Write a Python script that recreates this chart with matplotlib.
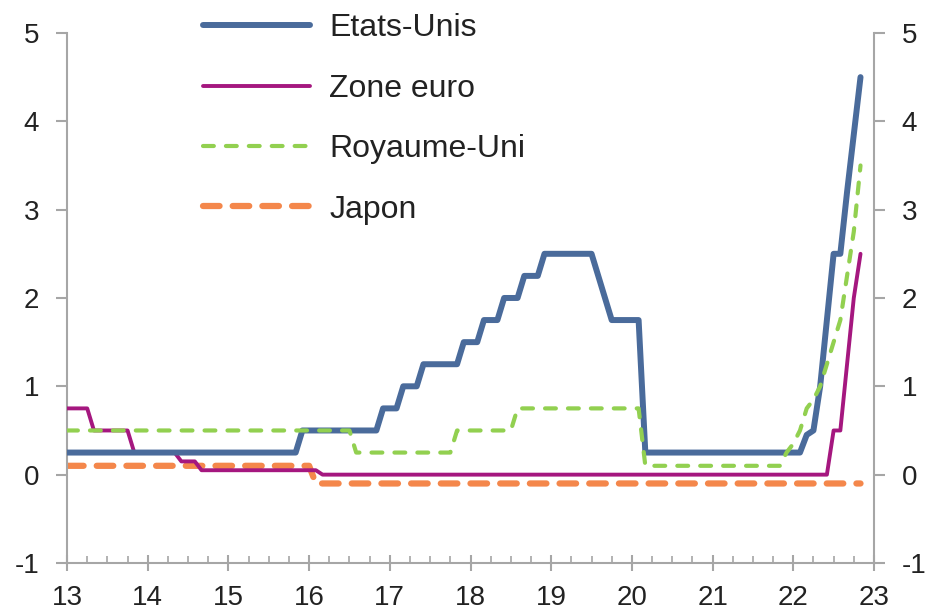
import matplotlib
matplotlib.use("Agg")
import matplotlib.pyplot as plt
from matplotlib.ticker import MultipleLocator
import numpy as np

plt.rcParams['font.family'] = ['Liberation Sans', 'DejaVu Sans']

# Month index counted from January 2013 (0 = Jan 2013), and policy rate (%)
us_month = [0, 34, 35, 46, 47, 49, 50, 52, 53, 58, 59, 61, 62, 64, 65, 67, 68, 70, 71,
            78, 79, 80, 81, 85, 86, 109, 110, 111, 112, 113, 114, 115, 116, 117, 118]
us_rate = [0.25, 0.25, 0.5, 0.5, 0.75, 0.75, 1.0, 1.0, 1.25, 1.25, 1.5, 1.5, 1.75, 1.75, 2.0, 2.0,
           2.25, 2.25, 2.5, 2.5, 2.25, 2.0, 1.75, 1.75, 0.25, 0.25, 0.45, 0.5, 1.0, 1.75, 2.5, 2.5,
           3.2, 3.85, 4.5]

ez_month = [0, 3, 4, 9, 10, 16, 17, 19, 20, 37, 38, 113, 114, 115, 116, 117, 118]
ez_rate = [0.75, 0.75, 0.5, 0.5, 0.25, 0.25, 0.15, 0.15, 0.05, 0.05, 0.0, 0.0, 0.5, 0.5, 1.25, 2.0, 2.5]

uk_month = [0, 42, 43, 57, 58, 66, 67, 85, 86, 106, 107, 108, 109, 110, 111, 112, 113, 114,
            115, 116, 117, 118]
uk_rate = [0.5, 0.5, 0.25, 0.25, 0.5, 0.5, 0.75, 0.75, 0.1, 0.1, 0.25, 0.35, 0.5, 0.75, 0.85,
           1.0, 1.25, 1.5, 1.75, 2.25, 2.75, 3.5]

jp_month = [0, 36, 37, 118]
jp_rate = [0.1, 0.1, -0.1, -0.1]

labels = ["Etats-Unis", "Zone euro", "Royaume-Uni", "Japon"]
x_ticks = [13, 14, 15, 16, 17, 18, 19, 20, 21, 22, 23]
y_ticks = [-1, 0, 1, 2, 3, 4, 5]


def to_year(months):
    return 13 + np.array(months) / 12.0


fig = plt.figure(figsize=(9.26, 6.14), dpi=100)
ax = fig.add_axes([0.0724, 0.0831, 0.9438 - 0.0724, 0.9463 - 0.0831])

grey = '#a6a6a6'
ax.plot(to_year(us_month), us_rate, color='#4a6b9b', lw=4.3, solid_joinstyle='round',
        solid_capstyle='round', label=labels[0], zorder=4)
ax.plot(to_year(ez_month), ez_rate, color='#a5177f', lw=2.8, solid_joinstyle='round',
        solid_capstyle='round', label=labels[1], zorder=3)
ax.plot(to_year(uk_month), uk_rate, color='#92d050', lw=3.0, dashes=(2.6, 2.9),
        dash_capstyle='round', label=labels[2], zorder=5)
ax.plot(to_year(jp_month), jp_rate, color='#f4874b', lw=4.5, dashes=(2.65, 2.1),
        dash_capstyle='round', label=labels[3], zorder=2)

ax.set_xlim(13, 23)
ax.set_ylim(-1, 5)
ax.set_xticks(x_ticks)
ax.set_xticklabels([str(t) for t in x_ticks])
ax.set_yticks(y_ticks)
ax.set_yticklabels([str(t) for t in y_ticks])
ax.xaxis.set_minor_locator(MultipleLocator(0.25))

for s in ['top']:
    ax.spines[s].set_visible(False)
for s in ['left', 'right', 'bottom']:
    ax.spines[s].set_color(grey)
    ax.spines[s].set_linewidth(1.5)

ax.tick_params(axis='y', which='major', left=True, right=True, labelleft=True, labelright=True,
               direction='out', length=8, width=1.5, color=grey, labelsize=20,
               labelcolor='#222222', pad=12)
ax.tick_params(axis='x', which='major', direction='inout', length=12, width=1.5, color=grey,
               labelsize=20, labelcolor='#222222', pad=10)
ax.tick_params(axis='x', which='minor', direction='in', length=5, width=1.2, color=grey)

leg = ax.legend(loc='upper left', bbox_to_anchor=(203 / 926, 1 - 13.5 / 614),
                bbox_transform=fig.transFigure, frameon=False, fontsize=23,
                handlelength=3.35, handletextpad=0.6, labelspacing=0.95, borderpad=0,
                borderaxespad=0)
for t in leg.get_texts():
    t.set_color('#222222')

fig.savefig('out.png', dpi=100)
